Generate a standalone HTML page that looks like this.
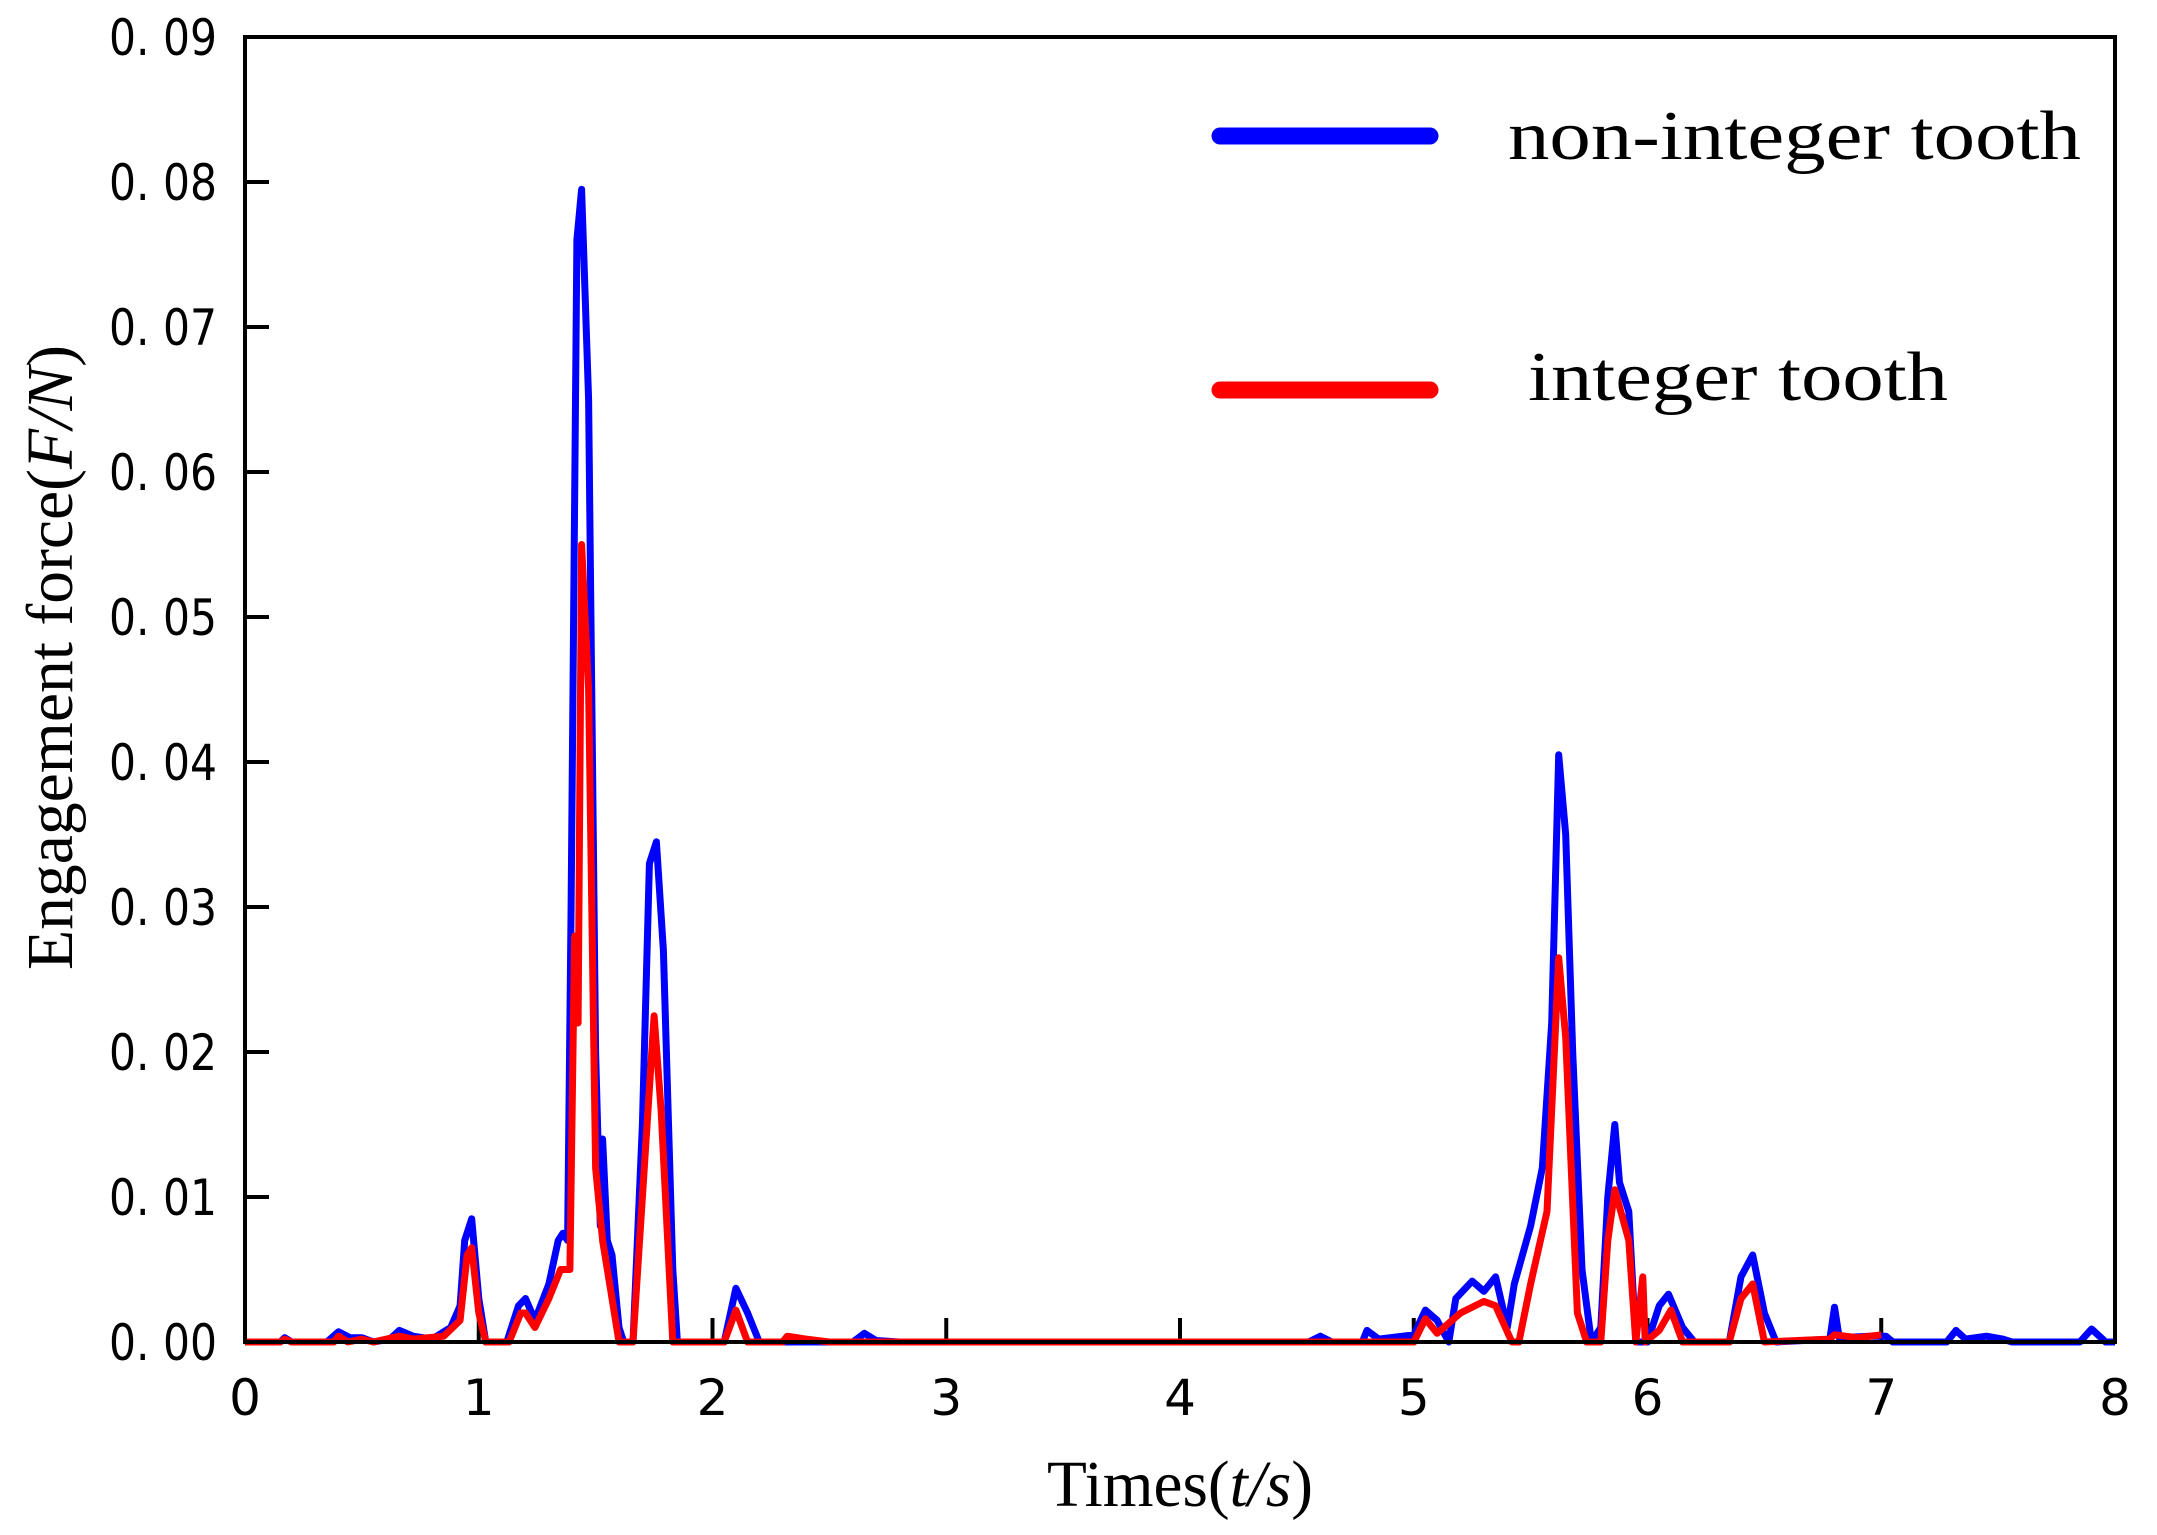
<!DOCTYPE html>
<html><head><meta charset="utf-8"><style>
html,body{margin:0;padding:0;background:#fff;}
svg{display:block;}
.tk{font-family:"DejaVu Sans","Liberation Sans",sans-serif;font-size:50px;fill:#000;}
.sf{font-family:"Liberation Serif",serif;fill:#000;}
</style></head><body>
<svg id="s" width="2157" height="1535" viewBox="0 0 2157 1535" xmlns="http://www.w3.org/2000/svg">
<rect width="2157" height="1535" fill="#fff"/>
<g id="ticks" stroke="#000" stroke-width="4"></g>
<g id="lab"></g>
<polyline id="blue" fill="none" stroke="#0000ff" stroke-width="7" stroke-linejoin="round"/>
<polyline id="red" fill="none" stroke="#ff0000" stroke-width="7" stroke-linejoin="round"/>
<rect x="245" y="37" width="1870" height="1305" fill="none" stroke="#000" stroke-width="4"/>
<line x1="1220" y1="136" x2="1430" y2="136" stroke="#0000ff" stroke-width="17" stroke-linecap="round"/>
<line x1="1220" y1="390" x2="1430" y2="390" stroke="#ff0000" stroke-width="17" stroke-linecap="round"/>
<text class="sf" x="1508" y="159" font-size="70" textLength="573" lengthAdjust="spacingAndGlyphs">non-integer tooth</text>
<text class="sf" x="1528" y="400" font-size="70" textLength="420" lengthAdjust="spacingAndGlyphs">integer tooth</text>
<text class="sf" x="1047" y="1506" font-size="66" textLength="266" lengthAdjust="spacingAndGlyphs">Times(<tspan font-style="italic">t/s</tspan>)</text>
<text class="sf" transform="translate(72,970) rotate(-90)" font-size="66" textLength="625" lengthAdjust="spacingAndGlyphs">Engagement force(<tspan font-style="italic">F/N</tspan>)</text>
</svg>
<script>
var X0=245,XS=233.75,Y0=1342,YS=14500;
function px(t){return X0+t*XS;} function py(f){return Y0-f*YS;}
var ns="http://www.w3.org/2000/svg";
var tg=document.getElementById('ticks'),lg=document.getElementById('lab');
for(var i=1;i<9;i++){var y=py(i*0.01);var l=document.createElementNS(ns,'line');l.setAttribute('x1',245);l.setAttribute('x2',269);l.setAttribute('y1',y);l.setAttribute('y2',y);tg.appendChild(l);}
for(var i=1;i<8;i++){var x=px(i);var l=document.createElementNS(ns,'line');l.setAttribute('x1',x);l.setAttribute('x2',x);l.setAttribute('y1',1342);l.setAttribute('y2',1318);tg.appendChild(l);}
for(var i=0;i<10;i++){var t=document.createElementNS(ns,'text');t.setAttribute('class','tk');t.setAttribute('x',217);t.setAttribute('y',py(i*0.01)+18);t.setAttribute('text-anchor','end');t.setAttribute('textLength',108);t.setAttribute('lengthAdjust','spacingAndGlyphs');t.textContent='0. 0'+i;lg.appendChild(t);}
for(var i=0;i<9;i++){var t=document.createElementNS(ns,'text');t.setAttribute('class','tk');t.setAttribute('x',px(i));t.setAttribute('y',1415);t.setAttribute('text-anchor','middle');t.textContent=i;lg.appendChild(t);}
var B=[[0,0],[0.15,0],[0.17,0.0003],[0.2,0],[0.35,0],[0.4,0.0007],[0.45,0.0003],[0.5,0.0003],[0.55,0],[0.62,0.0002],[0.66,0.0008],[0.72,0.0004],[0.8,0.0002],[0.88,0.001],[0.92,0.0025],[0.94,0.007],[0.97,0.0085],[1.0,0.003],[1.03,0],[1.12,0],[1.17,0.0025],[1.2,0.003],[1.24,0.0015],[1.3,0.004],[1.34,0.007],[1.36,0.0075],[1.38,0.007],[1.395,0.03],[1.42,0.076],[1.44,0.0795],[1.47,0.065],[1.5,0.02],[1.52,0.008],[1.53,0.014],[1.55,0.007],[1.57,0.006],[1.6,0.001],[1.62,0],[1.66,0],[1.7,0.015],[1.73,0.033],[1.76,0.0345],[1.79,0.027],[1.83,0.005],[1.85,0],[2.05,0],[2.1,0.0037],[2.15,0.002],[2.2,0],[2.6,0],[2.65,0.0006],[2.7,0.0001],[2.8,0],[4.55,0],[4.6,0.0004],[4.65,0],[4.78,0],[4.8,0.0008],[4.85,0.0002],[5.0,0.0005],[5.05,0.0022],[5.1,0.0015],[5.15,0],[5.18,0.003],[5.25,0.0042],[5.3,0.0035],[5.35,0.0045],[5.4,0.001],[5.43,0.004],[5.5,0.008],[5.55,0.012],[5.59,0.022],[5.62,0.0405],[5.65,0.035],[5.68,0.02],[5.72,0.005],[5.76,0],[5.8,0.001],[5.83,0.01],[5.86,0.015],[5.88,0.011],[5.92,0.009],[5.95,0],[6.0,0],[6.05,0.0025],[6.09,0.0033],[6.15,0.001],[6.2,0],[6.35,0],[6.4,0.0045],[6.45,0.006],[6.5,0.002],[6.55,0],[6.78,0.0002],[6.8,0.0024],[6.82,0.0003],[6.95,0.0004],[7.02,0.0004],[7.05,0],[7.28,0],[7.32,0.0008],[7.36,0.0002],[7.45,0.0004],[7.52,0.0002],[7.56,0],[7.85,0],[7.9,0.0009],[7.96,0],[8,0]];
var R=[[0,0],[0.15,0],[0.17,0.0002],[0.2,0],[0.38,0],[0.4,0.0004],[0.44,0],[0.5,0.0002],[0.55,0],[0.66,0.0004],[0.72,0.0002],[0.85,0.0004],[0.92,0.0015],[0.95,0.006],[0.97,0.0065],[1.0,0.002],[1.03,0],[1.13,0],[1.18,0.002],[1.2,0.002],[1.24,0.001],[1.3,0.003],[1.35,0.005],[1.39,0.005],[1.41,0.028],[1.425,0.022],[1.44,0.055],[1.47,0.045],[1.5,0.012],[1.53,0.007],[1.56,0.004],[1.6,0],[1.66,0],[1.7,0.01],[1.75,0.0225],[1.78,0.016],[1.83,0],[2.05,0],[2.1,0.0022],[2.15,0],[2.3,0],[2.32,0.0004],[2.4,0.0002],[2.5,0],[5.0,0],[5.05,0.0016],[5.1,0.0006],[5.2,0.002],[5.3,0.0028],[5.35,0.0025],[5.42,0],[5.45,0],[5.5,0.004],[5.57,0.009],[5.62,0.0265],[5.65,0.021],[5.7,0.002],[5.74,0],[5.8,0],[5.83,0.007],[5.86,0.0105],[5.92,0.007],[5.95,0],[5.98,0.0045],[5.99,0],[6.05,0.0008],[6.1,0.0022],[6.15,0],[6.35,0],[6.4,0.003],[6.45,0.004],[6.5,0],[6.78,0.0002],[6.8,0.0005],[6.9,0.0003],[7.0,0.0005]];
function pts(a){return a.map(function(p){return px(p[0]).toFixed(1)+','+py(p[1]).toFixed(1);}).join(' ');}
document.getElementById('blue').setAttribute('points',pts(B));
document.getElementById('red').setAttribute('points',pts(R));
</script>
</body></html>
